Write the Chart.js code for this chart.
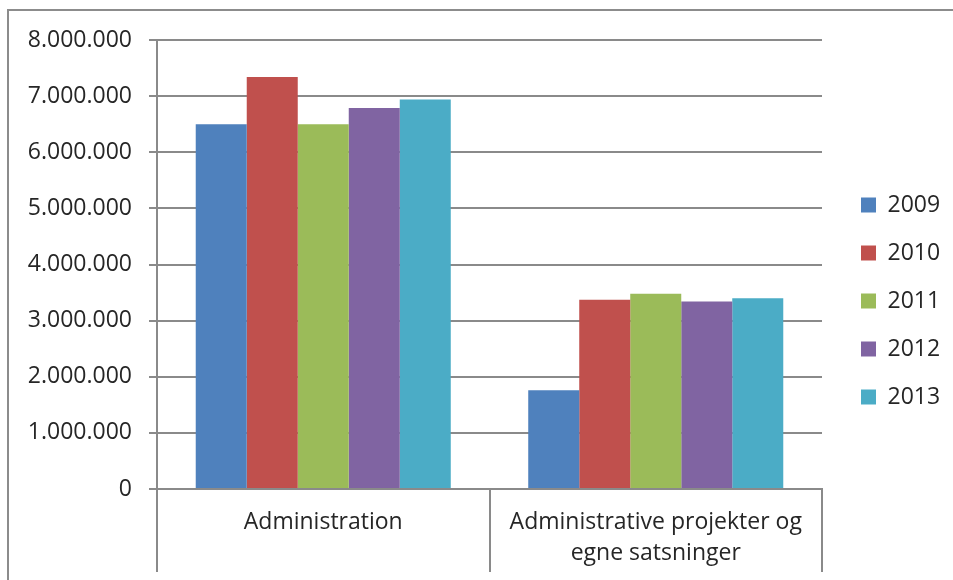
<!DOCTYPE html>
<html>
<head>
<meta charset="utf-8">
<script src="https://cdn.jsdelivr.net/npm/chart.js@4.4.1/dist/chart.umd.min.js"></script>
<style>
  html, body { margin: 0; padding: 0; background: #fff; overflow: hidden; }
  #frame {
    position: absolute; left: 7px; top: 9px; width: 946px; height: 571px;
    border-top: 2px solid #8c8c8c; border-left: 2px solid #8c8c8c;
  }
  #wrap { position: absolute; left: 0; top: 0; width: 953px; height: 580px; }
</style>
</head>
<body>
<div id="frame"></div>
<div id="wrap"><canvas id="chart"></canvas></div>
<script>
const categories = ["Administration", ["Administrative projekter og", "egne satsninger"]];
const years = ["2009", "2010", "2011", "2012", "2013"];
const values2009 = [6500000, 1760000];
const values2010 = [7340000, 3370000];
const values2011 = [6500000, 3480000];
const values2012 = [6790000, 3340000];
const values2013 = [6940000, 3400000];
const yearColors = ["#4F81BD", "#C0504D", "#9BBB59", "#8064A2", "#4BACC6"];

const seriesValues = [values2009, values2010, values2011, values2012, values2013];
const gridColor = "#8a8a8a";
const textColor = "#262626";
const font = { family: "'Open Sans', sans-serif", size: 23 };

function formatThousands(v) {
    return String(v).replace(/\B(?=(\d{3})+(?!\d))/g, ".");
}

// keep the legend column where Excel put it
const legendNudge = {
    id: "legendNudge",
    afterInit(chart) {
        const lg = chart.legend;
        const fit = lg.fit.bind(lg);
        lg.fit = () => { fit(); lg.width = 131; };
    },
    afterLayout(chart) {
        const lg = chart.legend;
        lg.left += 14;
        lg.right += 14;
        lg.top -= 9;
        lg.bottom -= 9;
    }
};

new Chart(document.getElementById("chart").getContext("2d"), {
    type: "bar",
    data: {
        labels: categories,
        datasets: years.map((year, i) => ({
            label: year,
            data: seriesValues[i],
            backgroundColor: yearColors[i],
            borderWidth: 0,
            categoryPercentage: 0.767,
            barPercentage: 1.0
        }))
    },
    options: {
        responsive: true,
        maintainAspectRatio: false,
        animation: false,
        layout: {
            padding: { top: 40, left: 0, right: 0, bottom: 0 }
        },

        scales: {
            x: {
                grid: {
                    offset: true,
                    drawOnChartArea: false,
                    drawTicks: true,
                    tickLength: 83,
                    color: gridColor,
                    lineWidth: 2
                },
                border: { display: true, color: gridColor, width: 2 },
                ticks: {
                    color: textColor,
                    font: { ...font, lineHeight: "31px" },
                    padding: -65.5,
                    maxRotation: 0,
                    autoSkip: false
                },
                afterFit: scale => { scale.height = 91; }
            },
            y: {
                min: 0,
                max: 8000000,
                grid: {
                    color: gridColor,
                    lineWidth: 2,
                    tickLength: 8
                },
                border: { display: true, color: gridColor, width: 2 },
                ticks: {
                    stepSize: 1000000,
                    color: textColor,
                    font: font,
                    padding: 17,
                    callback: v => formatThousands(v)
                },
                afterFit: scale => { scale.width = 157; }
            }
        },

        plugins: {
            legend: {
                position: "right",
                labels: {
                    boxWidth: 15,
                    boxHeight: 15,
                    padding: 25,
                    color: textColor,
                    font: font
                }
            },
            tooltip: { enabled: false }
        }
    },
    plugins: [legendNudge]
});
</script>
</body>
</html>
